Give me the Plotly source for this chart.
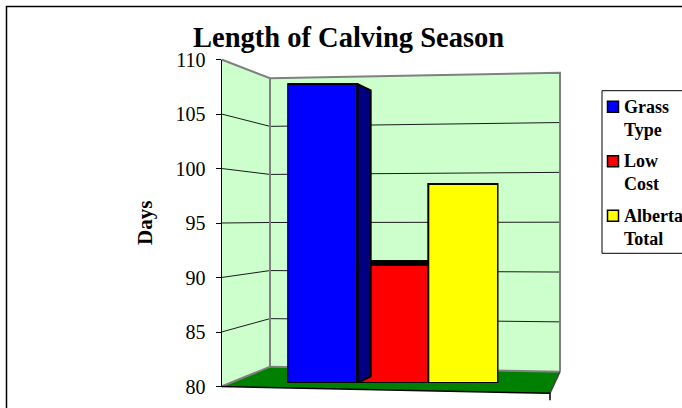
import plotly.graph_objects as go

# ---------------- data ----------------
categories = ["Grass Type", "Low Cost", "Alberta Total"]
legend_labels = ["Grass<br>Type", "Low<br>Cost", "Alberta<br>Total"]
days = [108.2, 91.1, 98.8]
colors = ["#0000FF", "#FF0000", "#FFFF00"]
side_colors = ["#000080", "#800000", "#808000"]
tick_values = [80, 85, 90, 95, 100, 105, 110]
tick_labels = ["80", "85", "90", "95", "100", "105", "110"]
title_text = "Length of Calving Season"
axis_title = "Days"

# ---------------- geometry / style ----------------
W, H = 682, 408
FONT = "Liberation Serif"
YMIN, YMAX = tick_values[0], tick_values[-1]


def px(x):
    return x / W


def py(y):
    return 1 - y / H


FRONT_X, FRONT_TOP, FRONT_BOT = 221.5, 59.5, 386.5
BACK_LX, BACK_LTOP, BACK_LBOT = 270.0, 78.3, 366.7
BACK_RX, BACK_RTOP, BACK_RBOT = 560.0, 72.7, 371.7
FLOOR_FRX, FLOOR_FRY = 550.0, 393.3

BAR_X0, BAR_X1 = 287.3, 498.3      # pixel span of the three bar front faces
BAR_BASE_PX, BAR_PX_PER_UNIT = 383.0, 10.6

VP = (4.81, 94.4)   # perspective vanishing point in bar-axis units
F = 0.043
TOP_DEPTH = 0.45


def lerp(a, b, t):
    return a + (b - a) * t


def frac(v):
    return (v - YMIN) / (YMAX - YMIN)


def path(points, close=True):
    s = "M " + " L ".join(f"{px(x):.5f},{py(y):.5f}" for x, y in points)
    return s + (" Z" if close else "")


fig = go.Figure()
shapes = []

# walls & floor
left_wall = [(FRONT_X, FRONT_TOP), (BACK_LX, BACK_LTOP), (BACK_LX, BACK_LBOT), (FRONT_X, FRONT_BOT)]
back_wall = [(BACK_LX, BACK_LTOP), (BACK_RX, BACK_RTOP), (BACK_RX, BACK_RBOT), (BACK_LX, BACK_LBOT)]
floor = [(FRONT_X, FRONT_BOT), (BACK_LX, BACK_LBOT), (BACK_RX, BACK_RBOT), (FLOOR_FRX, FLOOR_FRY)]
for pts, col in [(left_wall, "#CCFFCC"), (back_wall, "#CCFFCC"), (floor, "#008000")]:
    shapes.append(dict(type="path", xref="paper", yref="paper", path=path(pts),
                       fillcolor=col, line=dict(width=0), layer="below"))

# gridlines following the tick values
for v in tick_values[1:-1]:
    t = frac(v)
    pts = [(FRONT_X, lerp(FRONT_BOT, FRONT_TOP, t)),
           (BACK_LX, lerp(BACK_LBOT, BACK_LTOP, t)),
           (BACK_RX, lerp(BACK_RBOT, BACK_RTOP, t))]
    shapes.append(dict(type="path", xref="paper", yref="paper", path=path(pts, False),
                       line=dict(color="#1a1a1a", width=1), layer="below"))

# wall edges
edges = [
    [(FRONT_X, FRONT_TOP), (BACK_LX, BACK_LTOP), (BACK_RX, BACK_RTOP), (BACK_RX, BACK_RBOT)],
    [(BACK_LX, BACK_LTOP), (BACK_LX, BACK_LBOT)],
    [(FRONT_X, FRONT_BOT), (BACK_LX, BACK_LBOT), (BACK_RX, BACK_RBOT)],
]
for e in edges:
    shapes.append(dict(type="path", xref="paper", yref="paper", path=path(e, False),
                       line=dict(color="#808080", width=2), layer="below"))
shapes.append(dict(type="path", xref="paper", yref="paper",
                   path=path([(BACK_RX, BACK_RBOT), (FLOOR_FRX, FLOOR_FRY)], False),
                   line=dict(color="#404040", width=1.5), layer="below"))
shapes.append(dict(type="path", xref="paper", yref="paper",
                   path=path([(FRONT_X, FRONT_BOT), (FLOOR_FRX, FLOOR_FRY), (FLOOR_FRX, FLOOR_FRY + 7)], False),
                   line=dict(color="#000000", width=1.5), layer="below"))

# outer chart border
shapes.append(dict(type="rect", xref="paper", yref="paper",
                   x0=px(6.5), x1=px(W + 20), y0=py(6.5), y1=py(H + 20),
                   line=dict(color="#000000", width=1.5), fillcolor="rgba(0,0,0,0)"))

# invisible anchor trace so the front value axis is drawn
fig.add_trace(go.Scatter(x=[0.5], y=[YMIN], mode="markers", marker=dict(opacity=0),
                         showlegend=False, hoverinfo="skip"))

# ---------------- bars ----------------
n = len(days)
for i in range(n):
    fig.add_trace(go.Bar(
        x=[i], y=[days[i] - YMIN], base=YMIN, width=1, name=categories[i],
        marker=dict(color=colors[i], line=dict(color="#000000", width=2)),
        xaxis="x2", yaxis="y2", showlegend=False, cliponaxis=False,
        hovertemplate=f"{categories[i]}: %{{customdata}}<extra></extra>", customdata=[days[i]],
    ))

# top faces (visible when the top is below the horizon)
for i in range(n):
    top = days[i]
    if top < VP[1]:
        xl, xr = i - 0.5, i + 0.5
        fig.add_trace(go.Scatter(
            x=[xl, xr, xr, xl, xl], y=[top, top, top + TOP_DEPTH, top + TOP_DEPTH, top],
            mode="lines", fill="toself", fillcolor="#000000",
            line=dict(color="#000000", width=1), xaxis="x2", yaxis="y2",
            showlegend=False, hoverinfo="skip", cliponaxis=False))

# side faces (hidden when the next bar is taller)
for i in range(n):
    if i < n - 1 and days[i + 1] >= days[i]:
        continue
    xr, top, bot = i + 0.5, days[i], YMIN
    a2 = (xr + F * (VP[0] - xr), top + F * (VP[1] - top))
    b2 = (xr + F * (VP[0] - xr), bot + F * (VP[1] - bot))
    fig.add_trace(go.Scatter(
        x=[xr, a2[0], b2[0], xr, xr], y=[top, a2[1], b2[1], bot, top],
        mode="lines", fill="toself", fillcolor=side_colors[i],
        line=dict(color="#000000", width=2), xaxis="x2", yaxis="y2",
        showlegend=False, hoverinfo="skip", cliponaxis=False))

# ---------------- legend (custom) ----------------
LEG_L, LEG_T, LEG_B = 602.0, 90.7, 253.3
shapes.append(dict(type="rect", xref="paper", yref="paper",
                   x0=px(LEG_L), x1=px(W + 20), y0=py(LEG_T), y1=py(LEG_B),
                   line=dict(color="#000000", width=1), fillcolor="#FFFFFF"))
annotations = []
for i in range(n):
    base_line = 111.7 + i * 54.5
    shapes.append(dict(type="rect", xref="paper", yref="paper",
                       x0=px(607.5), x1=px(618.5), y0=py(base_line - 10.5), y1=py(base_line + 0.5),
                       line=dict(color="#000000", width=1.5), fillcolor=colors[i]))
    annotations.append(dict(
        text=f"<b>{legend_labels[i]}</b>", xref="paper", yref="paper",
        x=px(622), y=py(base_line - 17), xanchor="left", yanchor="top", align="left",
        showarrow=False, font=dict(family=FONT, size=18, color="#000000")))

annotations.append(dict(
    text=f"<b>{title_text}</b>", xref="paper", yref="paper", x=px(348), y=py(19.8),
    xanchor="center", yanchor="top", showarrow=False,
    font=dict(family=FONT, size=28.5, color="#000000")))
annotations.append(dict(
    text=f"<b>{axis_title}</b>", xref="paper", yref="paper", x=px(145), y=py(223),
    xanchor="center", yanchor="middle", textangle=-90, showarrow=False,
    font=dict(family=FONT, size=21, color="#000000")))

fig.update_layout(
    width=W, height=H,
    margin=dict(l=0, r=0, t=0, b=0, pad=0, autoexpand=False),
    paper_bgcolor="#FFFFFF", plot_bgcolor="rgba(0,0,0,0)",
    barmode="overlay", bargap=0,
    shapes=shapes, annotations=annotations,
    showlegend=False,
    xaxis=dict(domain=[px(FRONT_X), px(BACK_RX)], range=[0, 1], visible=False,
               fixedrange=True, automargin=False),
    yaxis=dict(domain=[py(FRONT_BOT), py(FRONT_TOP)], range=[YMIN, YMAX],
               tickvals=tick_values, ticktext=tick_labels,
               ticks="outside", ticklen=5, tickcolor="#000000", tickwidth=1,
               showline=True, linecolor="#000000", linewidth=1,
               showgrid=False, zeroline=False, ticklabelstandoff=6, automargin=False,
               tickfont=dict(family=FONT, size=20, color="#000000"), fixedrange=True),
    xaxis2=dict(domain=[px(BAR_X0), px(BAR_X1)], range=[-0.5, n - 0.5], anchor="y2",
                visible=False, fixedrange=True, automargin=False),
    yaxis2=dict(domain=[py(BAR_BASE_PX), py(BAR_BASE_PX - BAR_PX_PER_UNIT * (YMAX - YMIN))],
                range=[YMIN, YMAX], anchor="x2", visible=False, fixedrange=True,
                automargin=False),
)

fig.write_html("out.html", config={"displayModeBar": False},
               post_script="document.body.style.margin='0';")
